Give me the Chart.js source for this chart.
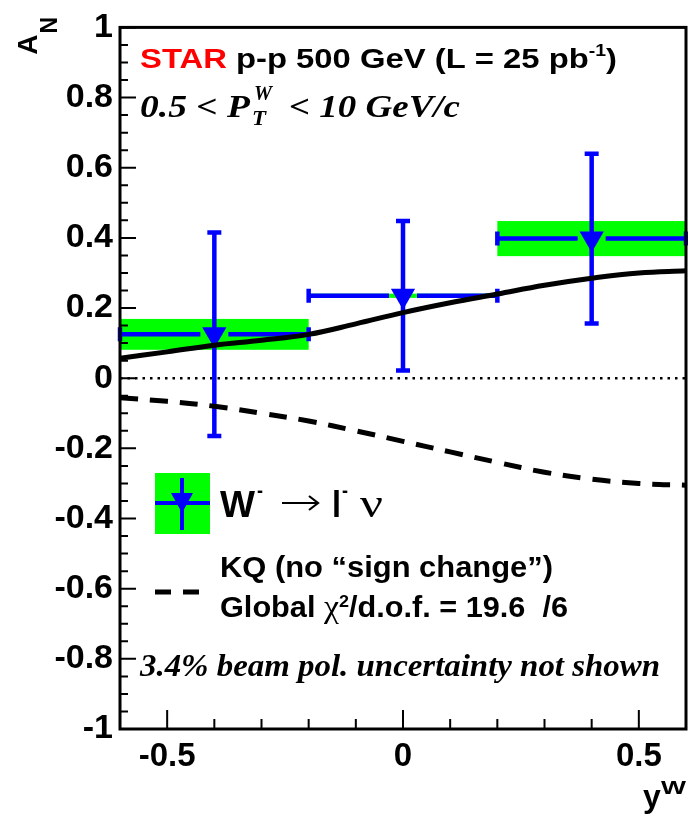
<!DOCTYPE html>
<html><head><meta charset="utf-8">
<script src="https://cdn.jsdelivr.net/npm/chart.js@4"></script>
<style>html,body{margin:0;padding:0;overflow:hidden;background:#fff;width:688px;height:822px}canvas{display:block}</style>
</head><body><canvas id="c" width="700" height="822"></canvas>
<script>
// ---- data ----
const binCenters = [-0.4, 0.0, 0.4];
const binLow = [-0.6, -0.2, 0.2];
const binHigh = [-0.2, 0.2, 0.6];
const asymValues = [0.125, 0.235, 0.398];
const statErr = [0.29, 0.213, 0.242];
const sysErr = [0.044, 0.006, 0.05];
const curveX = [-0.6, -0.5, -0.4, -0.3, -0.2, -0.1, 0.0, 0.1, 0.2, 0.3, 0.4, 0.5, 0.6];
const theorySignChange = [0.057, 0.075, 0.094, 0.108, 0.125, 0.155, 0.187, 0.215, 0.24, 0.265, 0.285, 0.300, 0.306];
const theoryKQ = [-0.056, -0.066, -0.08, -0.10, -0.122, -0.15, -0.18, -0.21, -0.24, -0.268, -0.288, -0.300, -0.305];
const yTickValues = [-1, -0.8, -0.6, -0.4, -0.2, 0, 0.2, 0.4, 0.6, 0.8, 1];
const xTickValues = [-0.5, 0, 0.5];

const BLUE = '#0000ff', GREEN = '#00ff00';
const SANS = '"Liberation Sans", Arial, sans-serif';
const SERIF = '"Liberation Serif", "Times New Roman", serif';

// draw a run of text segments stretched horizontally to a target width
function drawRun(ctx, x, y, segs, target) {
  let total = 0;
  for (const s of segs) { ctx.font = s.font; total += ctx.measureText(s.t).width + (s.dx || 0); }
  const k = target ? target / total : 1;
  ctx.save(); ctx.translate(x, y); ctx.scale(k, 1);
  let cx = 0;
  for (const s of segs) {
    ctx.font = s.font; ctx.fillStyle = s.color || '#000';
    ctx.fillText(s.t, cx, s.dy || 0);
    cx += ctx.measureText(s.t).width + (s.dx || 0);
  }
  ctx.restore();
}

const extras = {
  id: 'extras',
  beforeDatasetsDraw(chart) {
    const {ctx, chartArea: a, scales: {x, y}} = chart;
    ctx.save();
    ctx.fillStyle = GREEN;
    for (let i = 0; i < binCenters.length; i++) {
      const x0 = x.getPixelForValue(binLow[i]), x1 = x.getPixelForValue(binHigh[i]);
      const y0 = y.getPixelForValue(asymValues[i] + sysErr[i]), y1 = y.getPixelForValue(asymValues[i] - sysErr[i]);
      ctx.fillRect(x0, y0, x1 - x0, y1 - y0);
    }
    ctx.strokeStyle = '#000'; ctx.lineWidth = 2.5; ctx.setLineDash([2.5, 5]);
    const y0 = y.getPixelForValue(0);
    ctx.beginPath(); ctx.moveTo(a.left, y0); ctx.lineTo(a.right, y0); ctx.stroke();
    ctx.restore();
  },
  beforeDatasetDraw(chart, args) {
    if (args.index !== 2) return;
    const {ctx, scales: {x, y}} = chart;
    ctx.save();
    ctx.strokeStyle = BLUE; ctx.lineWidth = 4.5; ctx.setLineDash([]);
    const cap = 7, gap = 14;
    for (let i = 0; i < binCenters.length; i++) {
      const cx = x.getPixelForValue(binCenters[i]), cy = y.getPixelForValue(asymValues[i]);
      const xl = x.getPixelForValue(binLow[i]), xh = x.getPixelForValue(binHigh[i]);
      const yt = y.getPixelForValue(asymValues[i] + statErr[i]), yb = y.getPixelForValue(asymValues[i] - statErr[i]);
      ctx.beginPath();
      ctx.moveTo(xl, cy); ctx.lineTo(cx - gap, cy);
      ctx.moveTo(cx + gap, cy); ctx.lineTo(xh, cy);
      ctx.moveTo(xl, cy - cap); ctx.lineTo(xl, cy + cap);
      ctx.moveTo(xh, cy - cap); ctx.lineTo(xh, cy + cap);
      ctx.moveTo(cx, yt); ctx.lineTo(cx, yb);
      ctx.moveTo(cx - cap, yt); ctx.lineTo(cx + cap, yt);
      ctx.moveTo(cx - cap, yb); ctx.lineTo(cx + cap, yb);
      ctx.stroke();
    }
    ctx.restore();
  },
  afterDraw(chart) {
    const {ctx, chartArea: a, scales: {x, y}} = chart;
    ctx.save();
    ctx.strokeStyle = '#000'; ctx.lineWidth = 3; ctx.setLineDash([]);
    ctx.strokeRect(a.left, a.top, a.right - a.left, a.bottom - a.top);
    ctx.lineWidth = 2;
    ctx.beginPath();
    for (let k = -20; k <= 20; k++) {
      const py = y.getPixelForValue(k * 0.05);
      const len = (k % 4 === 0) ? 16 : 8;
      ctx.moveTo(a.left, py); ctx.lineTo(a.left + len, py);
    }
    for (let k = -6; k <= 6; k++) {
      const px = x.getPixelForValue(k * 0.1);
      const len = (k % 5 === 0) ? 19 : 10;
      ctx.moveTo(px, a.bottom); ctx.lineTo(px, a.bottom - len);
    }
    ctx.stroke();

    ctx.fillStyle = '#000';
    ctx.textBaseline = 'alphabetic';
    // A_N (rotated)
    ctx.save();
    ctx.translate(37, 17); ctx.rotate(-Math.PI / 2);
    ctx.textAlign = 'right';
    ctx.font = 'bold 23px ' + SANS; ctx.fillText('N', 0, 20);
    const nW = ctx.measureText('N').width;
    ctx.font = 'bold 28px ' + SANS; ctx.fillText('A', -nW - 1, 0);
    ctx.restore();
    ctx.textAlign = 'left';
    // y^W
    drawRun(ctx, 643, 807, [{t: 'y', font: 'bold 32px ' + SANS}], 0);
    drawRun(ctx, 661, 794, [{t: 'W', font: 'bold 18px ' + SANS}], 25);

    // STAR header
    drawRun(ctx, 140, 68, [
      {t: 'STAR', font: 'bold 27px ' + SANS, color: '#ff0000'},
      {t: ' p-p 500 GeV (L = 25 pb', font: 'bold 27px ' + SANS},
      {t: '-1', font: 'bold 16px ' + SANS, dy: -12},
      {t: ')', font: 'bold 27px ' + SANS}
    ], 477);

    // kinematic range
    const kf = 'italic bold 32px ' + SERIF;
    drawRun(ctx, 140, 117, [{t: '0.5 < P', font: kf}], 110);
    drawRun(ctx, 254, 100, [{t: 'W', font: 'italic bold 22px ' + SERIF}], 18);
    drawRun(ctx, 252, 125, [{t: 'T', font: 'italic bold 22px ' + SERIF}], 14);
    drawRun(ctx, 289, 117, [{t: '< 10 GeV/c', font: kf}], 171);

    // legend: data
    ctx.fillStyle = GREEN; ctx.fillRect(155, 473, 55, 61);
    ctx.strokeStyle = BLUE; ctx.lineWidth = 4;
    ctx.beginPath(); ctx.moveTo(155, 503); ctx.lineTo(210, 503); ctx.moveTo(182, 478); ctx.lineTo(182, 530); ctx.stroke();
    ctx.fillStyle = BLUE;
    ctx.beginPath(); ctx.moveTo(171, 493); ctx.lineTo(193, 493); ctx.lineTo(182, 513); ctx.closePath(); ctx.fill();
    drawRun(ctx, 220, 517, [{t: 'W', font: 'bold 37px ' + SANS}], 35);
    drawRun(ctx, 257, 497, [{t: '-', font: 'bold 20px ' + SANS}], 6);
    // arrow
    ctx.strokeStyle = '#000'; ctx.lineWidth = 2.2;
    ctx.beginPath();
    ctx.moveTo(282, 503); ctx.lineTo(318, 503);
    ctx.moveTo(309, 496); ctx.lineTo(318, 503); ctx.lineTo(309, 510);
    ctx.stroke();
    drawRun(ctx, 332, 517, [{t: 'l', font: 'bold 37px ' + SANS}], 9);
    drawRun(ctx, 342, 497, [{t: '-', font: 'bold 20px ' + SANS}], 6);
    drawRun(ctx, 360, 517, [{t: '\u03bd', font: '40px ' + SERIF}], 23);

    // legend: KQ
    ctx.strokeStyle = '#000'; ctx.lineWidth = 5; ctx.setLineDash([16, 12]);
    ctx.beginPath(); ctx.moveTo(155, 592); ctx.lineTo(200, 592); ctx.stroke();
    ctx.setLineDash([]);
    drawRun(ctx, 220, 577, [{t: 'KQ (no \u201csign change\u201d)', font: 'bold 29px ' + SANS}], 333);
    drawRun(ctx, 220, 617, [
      {t: 'Global ', font: 'bold 29px ' + SANS},
      {t: '\u03c7', font: '32px ' + SERIF},
      {t: '2', font: 'bold 17px ' + SANS, dy: -10},
      {t: '/d.o.f. = 19.6  /6', font: 'bold 29px ' + SANS}
    ], 348);

    // note
    drawRun(ctx, 140, 676, [{t: '3.4% beam pol. uncertainty not shown', font: 'italic bold 31px ' + SERIF}], 520);
    ctx.restore();
  }
};

new Chart(document.getElementById('c'), {
  type: 'scatter',
  data: {
    datasets: [
      { type: 'line', label: 'theory', data: curveX.map((v, i) => ({x: v, y: theorySignChange[i]})),
        borderColor: '#000', borderWidth: 5, pointRadius: 0, tension: 0.4, fill: false },
      { type: 'line', label: 'KQ', data: curveX.map((v, i) => ({x: v, y: theoryKQ[i]})),
        borderColor: '#000', borderWidth: 5, borderDash: [18, 12], pointRadius: 0, tension: 0.4, fill: false },
      { label: 'W- -> l- nu', data: binCenters.map((v, i) => ({x: v, y: asymValues[i]})),
        pointStyle: 'triangle', rotation: 180, pointRadius: 14, backgroundColor: BLUE, borderColor: BLUE, borderWidth: 0 }
    ]
  },
  options: {
    responsive: false, animation: false,
    layout: { padding: { top: 21, right: 8, left: 0, bottom: 0 } },
    plugins: { legend: { display: false }, tooltip: { enabled: false } },
    scales: {
      x: { type: 'linear', min: -0.6, max: 0.6,
        afterBuildTicks: s => { s.ticks = xTickValues.map(v => ({value: v})); },
        afterFit: s => { s.height = 93; },
        grid: { display: false, drawTicks: false }, border: { display: false },
        ticks: { padding: 8, color: '#000', font: { family: SANS, size: 33, weight: 'bold' },
          callback: v => v === 0 ? '0' : String(v) } },
      y: { type: 'linear', min: -1, max: 1,
        afterBuildTicks: s => { s.ticks = yTickValues.map(v => ({value: v})); },
        afterFit: s => { s.width = 120; },
        grid: { display: false, drawTicks: false }, border: { display: false },
        ticks: { padding: 7, color: '#000', font: { family: SANS, size: 34, weight: 'bold' },
          callback: v => Math.abs(v) < 1e-9 ? '0' : String(+v.toFixed(1)) } }
    }
  },
  plugins: [extras]
});
</script></body></html>
